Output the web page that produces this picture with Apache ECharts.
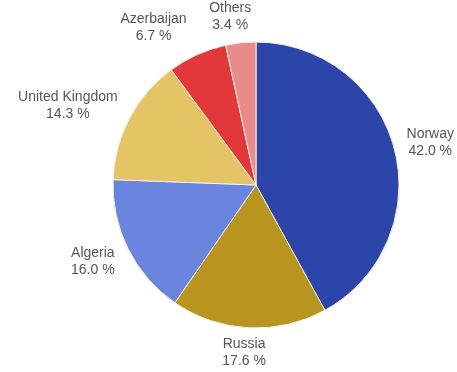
<!DOCTYPE html>
<html><head><meta charset="utf-8">
<script src="https://cdn.jsdelivr.net/npm/echarts@6/dist/echarts.min.js"></script>
<style>html,body{margin:0;padding:0;background:#fff}#c{width:457px;height:372px}</style>
</head><body><div id="c"></div>
<script>
var countries = ['Norway', 'Russia', 'Algeria', 'United Kingdom', 'Azerbaijan', 'Others'];
var shares = [42.0, 17.6, 16.0, 14.3, 6.7, 3.4];
var colors = ['#2b45a9', '#b8951f', '#6a85de', '#e5c465', '#e2383a', '#ea8b8b'];
// small label nudges (style only)
var labelNudge = [[1, 0], [-3, -4], [-5, -1], [-7, 1], [-25, 0], [-7, 3]];

var CX = 256, CY = 185, R = 143;
var total = shares.reduce(function (a, b) { return a + b; }, 0);
var mids = [];
(function () {
  var acc = 0;
  for (var i = 0; i < shares.length; i++) {
    mids.push((acc + shares[i] / 2) / total * 2 * Math.PI);
    acc += shares[i];
  }
})();

var chart = echarts.init(document.getElementById('c'), null, { renderer: 'canvas' });
chart.setOption({
  animation: false,
  series: [{
    type: 'pie',
    center: [CX, CY],
    radius: [0, R],
    startAngle: 90,
    clockwise: true,
    avoidLabelOverlap: false,
    data: countries.map(function (n, i) {
      return { name: n, value: shares[i], itemStyle: { color: colors[i] } };
    }),
    itemStyle: { borderColor: '#f3f0e6', borderWidth: 1 },
    label: {
      show: true,
      position: 'outside',
      formatter: function (p) { return p.name + '\n' + p.value.toFixed(1) + ' %'; },
      fontFamily: 'Liberation Sans, Arial, sans-serif',
      fontSize: 14,
      lineHeight: 17,
      color: '#555555',
      align: 'center'
    },
    labelLine: { show: false },
    labelLayout: function (params) {
      var i = params.dataIndex;
      var a = mids[i];
      var dx = Math.sin(a), dy = -Math.cos(a);
      var w = params.labelRect.width, h = params.labelRect.height;
      var D = R * 1.085;
      var x = CX + dx * D + dx * w / 2 + labelNudge[i][0];
      var y = CY + dy * D + dy * h / 2 + labelNudge[i][1];
      return { x: x, y: y, align: 'center', verticalAlign: 'middle' };
    },
    emphasis: { disabled: true }
  }]
});
</script></body></html>
